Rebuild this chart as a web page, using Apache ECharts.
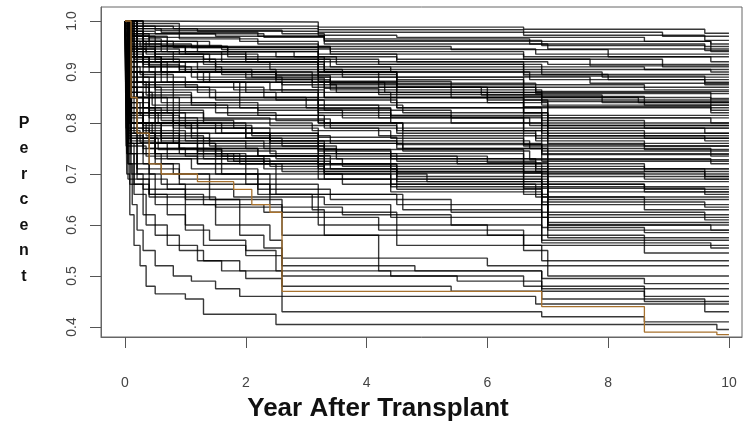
<!DOCTYPE html>
<html>
<head>
<meta charset="utf-8">
<script src="https://cdn.jsdelivr.net/npm/echarts@6/dist/echarts.min.js"></script>
<style>html,body{margin:0;padding:0;background:#fff}#c{width:756px;height:432px}</style>
</head>
<body>
<div id="c"></div>
<script>
// Tick labels
const xTicks = [0, 2, 4, 6, 8, 10];
const yTicks = [0.4, 0.5, 0.6, 0.7, 0.8, 0.9, 1.0];

// Step curves: [year, survival] - survival holds from that year onward
const upperCurves = [
  [[0,1],[0.3,0.998],[3.2,0.988],[6.6,0.984],[9.6,0.976],[10,0.976]],
  [[0,1],[0.1,0.99],[0.8,0.985],[3.2,0.978],[6.6,0.972],[9.6,0.962],[10,0.962]],
  [[0,1],[0.05,0.98],[0.5,0.975],[1.5,0.97],[3.3,0.96],[6.7,0.955],[9.6,0.95],[10,0.95]],
  [[0,1],[0.1,0.975],[0.9,0.965],[2.2,0.955],[3.2,0.945],[6.8,0.935],[10,0.935]],
  [[0,1],[0.05,0.97],[0.4,0.96],[1.4,0.95],[3.4,0.94],[6.6,0.93],[9.7,0.92],[10,0.92]],
  [[0,1],[0.2,0.96],[0.7,0.95],[1.7,0.94],[3.2,0.93],[4.5,0.92],[7,0.915],[10,0.915]],
  [[0,1],[0.1,0.955],[0.6,0.94],[2.5,0.93],[3.5,0.915],[6.6,0.905],[9.7,0.9],[10,0.9]],
  [[0,1],[0.3,0.95],[1.0,0.935],[2.0,0.925],[3.2,0.91],[4.4,0.9],[7.9,0.89],[10,0.89]],
  [[0,1],[0.05,0.945],[0.5,0.93],[1.3,0.915],[3.3,0.9],[6.7,0.885],[9.6,0.875],[10,0.875]],
  [[0,1],[0.2,0.94],[0.8,0.92],[2.4,0.905],[3.6,0.89],[6.6,0.875],[8.6,0.865],[10,0.865]],
  [[0,1],[0.1,0.93],[0.4,0.91],[1.6,0.895],[3.2,0.88],[4.5,0.87],[6.8,0.858],[10,0.858]],
  [[0,1],[0.15,0.925],[0.9,0.905],[2.1,0.89],[3.4,0.875],[6.6,0.86],[9.7,0.848],[10,0.848]],
  [[0,1],[0.05,0.92],[0.6,0.9],[1.2,0.885],[3.1,0.87],[5.9,0.855],[7.9,0.84],[10,0.84]],
  [[0,1],[0.3,0.91],[1.1,0.89],[2.6,0.875],[3.5,0.86],[6.6,0.845],[8.6,0.835],[10,0.835]],
  [[0,1],[0.1,0.9],[0.7,0.88],[1.8,0.865],[3.3,0.85],[6.9,0.835],[10,0.835]],
  [[0,1],[0.02,0.985],[1.2,0.98],[3.2,0.972],[4.5,0.968],[8.6,0.96],[9.7,0.955],[10,0.955]],
  [[0,1],[0.04,0.99],[0.9,0.975],[2.3,0.968],[3.3,0.955],[7.0,0.945],[10,0.945]],
  [[0,1],[0.07,0.96],[0.25,0.95],[1.0,0.94],[2.8,0.93],[3.2,0.92],[6.6,0.91],[8.6,0.905],[10,0.905]],
  [[0,1],[0.12,0.94],[0.5,0.925],[1.5,0.91],[3.2,0.895],[4.5,0.885],[6.6,0.87],[10,0.87]],
  [[0,1],[0.03,0.935],[0.3,0.915],[0.9,0.9],[2.5,0.885],[3.4,0.865],[6.9,0.85],[9.7,0.84],[10,0.84]],
  [[0,1],[0.02,0.99],[0.5,0.982],[2.6,0.975],[3.3,0.965],[6.7,0.96],[9.7,0.94],[10,0.94]],
  [[0,1],[0.06,0.975],[0.4,0.968],[1.9,0.96],[3.2,0.95],[5.4,0.944],[8.0,0.93],[10,0.93]],
  [[0,1],[0.03,0.97],[0.3,0.955],[1.1,0.948],[3.4,0.935],[6.6,0.925],[8.9,0.91],[10,0.91]],
  [[0,1],[0.08,0.965],[0.6,0.952],[1.6,0.944],[3.2,0.925],[4.2,0.915],[6.9,0.895],[10,0.895]],
  [[0,1],[0.04,0.96],[0.2,0.945],[0.9,0.935],[2.2,0.92],[3.3,0.905],[6.6,0.892],[9.6,0.88],[10,0.88]],
  [[0,1],[0.1,0.95],[0.5,0.935],[1.4,0.92],[3.2,0.9],[4.5,0.89],[7.7,0.878],[10,0.878]],
  [[0,1],[0.02,0.94],[0.3,0.92],[1.2,0.905],[2.5,0.893],[3.4,0.878],[6.8,0.862],[10,0.862]],
  [[0,1],[0.05,0.93],[0.4,0.912],[1.0,0.9],[3.2,0.882],[5.4,0.87],[6.6,0.852],[8.6,0.845],[10,0.845]],
  [[0,1],[0.07,0.92],[0.7,0.9],[2.0,0.888],[3.3,0.868],[4.2,0.856],[6.9,0.842],[10,0.842]],
  [[0,1],[0.03,0.91],[0.25,0.895],[0.8,0.88],[2.4,0.865],[3.2,0.85],[6.6,0.832],[9.7,0.825],[10,0.825]],
  [[0,1],[0.01,0.995],[0.9,0.99],[3.2,0.983],[6.6,0.978],[8.9,0.97],[10,0.97]],
  [[0,1],[0.05,0.985],[0.6,0.978],[2.2,0.97],[3.3,0.962],[6.9,0.952],[9.6,0.942],[10,0.942]],
  [[0,1],[0.12,0.96],[0.8,0.948],[3.2,0.935],[4.5,0.925],[7.7,0.912],[10,0.912]],
  [[0,1],[0.09,0.945],[0.35,0.935],[1.3,0.925],[3.4,0.91],[6.6,0.895],[8.0,0.885],[10,0.885]]
];

const middleCurves = [
  [[0,1],[0.05,0.92],[0.3,0.89],[1.0,0.87],[2.3,0.85],[3.2,0.835],[4.6,0.82],[7,0.81],[9.7,0.8],[10,0.8]],
  [[0,1],[0.1,0.9],[0.5,0.87],[1.4,0.85],[3.0,0.83],[4.4,0.815],[6.6,0.8],[8.6,0.79],[10,0.79]],
  [[0,1],[0.05,0.89],[0.4,0.86],[1.1,0.84],[2.2,0.825],[3.6,0.81],[6.7,0.795],[10,0.795]],
  [[0,1],[0.2,0.88],[0.8,0.85],[1.9,0.83],[3.2,0.815],[5.4,0.8],[6.9,0.78],[10,0.78]],
  [[0,1],[0.1,0.87],[0.6,0.84],[1.5,0.82],[2.5,0.805],[3.3,0.79],[6.6,0.775],[9.6,0.765],[10,0.765]],
  [[0,1],[0.05,0.86],[0.3,0.83],[0.9,0.81],[2.4,0.795],[4.5,0.78],[6.8,0.765],[8.6,0.755],[10,0.755]],
  [[0,1],[0.15,0.85],[0.7,0.82],[1.3,0.8],[3.1,0.785],[4.4,0.77],[6.6,0.755],[10,0.755]],
  [[0,1],[0.1,0.84],[0.4,0.81],[1.2,0.79],[2.1,0.775],[3.4,0.76],[6.9,0.74],[9.7,0.735],[10,0.735]],
  [[0,1],[0.05,0.83],[0.5,0.8],[1.6,0.78],[3.2,0.76],[4.6,0.745],[6.7,0.728],[10,0.728]],
  [[0,1],[0.2,0.82],[0.8,0.79],[2.0,0.77],[2.6,0.755],[3.5,0.74],[6.6,0.72],[8.6,0.71],[10,0.71]],
  [[0,1],[0.1,0.81],[0.3,0.785],[1.0,0.765],[2.3,0.75],[3.2,0.735],[5.5,0.72],[6.9,0.7],[10,0.7]],
  [[0,1],[0.05,0.8],[0.6,0.77],[1.4,0.755],[3.3,0.74],[4.5,0.725],[6.8,0.705],[9.6,0.69],[10,0.69]],
  [[0,1],[0.1,0.79],[0.4,0.76],[1.2,0.745],[2.5,0.73],[3.6,0.715],[6.6,0.695],[10,0.695]],
  [[0,1],[0.15,0.78],[0.9,0.75],[2.2,0.735],[3.2,0.72],[4.4,0.705],[6.9,0.68],[8.6,0.67],[10,0.67]],
  [[0,1],[0.05,0.77],[0.5,0.74],[1.7,0.725],[3.4,0.71],[6.6,0.69],[7,0.665],[10,0.665]],
  [[0,1],[0.1,0.76],[0.7,0.73],[2.4,0.715],[3.3,0.7],[5.0,0.685],[6.9,0.655],[10,0.655]],
  [[0,1],[0.05,0.95],[0.2,0.93],[0.6,0.9],[1.3,0.88],[2.6,0.86],[3.2,0.845],[4.5,0.83],[6.6,0.82],[7.0,0.81],[10,0.81]],
  [[0,1],[0.08,0.97],[0.5,0.92],[1.5,0.9],[3.1,0.88],[4.3,0.86],[6.9,0.85],[8.5,0.84],[9.7,0.82],[10,0.82]],
  [[0,1],[0.06,0.88],[0.35,0.855],[1.1,0.835],[3.2,0.82],[4.4,0.8],[6.6,0.785],[8.6,0.77],[10,0.77]],
  [[0,1],[0.09,0.86],[0.45,0.835],[1.7,0.815],[3.3,0.8],[4.6,0.785],[7.0,0.76],[10,0.76]],
  [[0,1],[0.03,0.84],[0.25,0.815],[0.9,0.795],[2.1,0.78],[3.2,0.765],[6.7,0.75],[9.7,0.74],[10,0.74]],
  [[0,1],[0.07,0.82],[0.55,0.8],[1.5,0.78],[2.4,0.765],[4.5,0.75],[6.9,0.725],[10,0.725]],
  [[0,1],[0.11,0.8],[0.35,0.775],[1.3,0.76],[3.2,0.745],[4.4,0.73],[6.6,0.715],[8.6,0.705],[10,0.705]],
  [[0,1],[0.02,0.79],[0.6,0.765],[2.0,0.75],[3.5,0.73],[6.8,0.71],[9.6,0.695],[10,0.695]],
  [[0,1],[0.06,0.775],[0.3,0.75],[1.0,0.735],[2.3,0.72],[3.3,0.705],[7.0,0.675],[10,0.675]],
  [[0,1],[0.09,0.765],[0.5,0.74],[1.8,0.725],[3.2,0.71],[4.5,0.695],[6.6,0.68],[8.6,0.665],[10,0.665]],
  [[0,1],[0.04,0.98],[0.3,0.96],[1.2,0.94],[3.2,0.9],[4.2,0.87],[5.4,0.85],[6.6,0.83],[10,0.83]],
  [[0,1],[0.05,0.97],[0.4,0.95],[1.7,0.93],[3.3,0.9],[4.5,0.86],[6.0,0.84],[7.0,0.79],[10,0.79]],
  [[0,1],[0.1,0.97],[0.7,0.94],[2.0,0.92],[3.2,0.9],[4.5,0.87],[6.0,0.845],[7.0,0.6],[9.7,0.59],[10,0.59]],
  [[0,1],[0.04,0.9],[0.3,0.875],[1.2,0.86],[2.5,0.845],[3.2,0.828],[4.4,0.812],[6.9,0.795],[10,0.795]],
  [[0,1],[0.08,0.89],[0.5,0.865],[1.5,0.845],[3.3,0.825],[5.4,0.81],[6.6,0.79],[9.6,0.78],[10,0.78]],
  [[0,1],[0.02,0.87],[0.2,0.85],[0.9,0.83],[2.2,0.815],[3.2,0.8],[4.5,0.785],[6.8,0.77],[10,0.77]],
  [[0,1],[0.06,0.85],[0.4,0.825],[1.3,0.808],[3.4,0.79],[4.2,0.775],[6.6,0.758],[8.6,0.748],[10,0.748]],
  [[0,1],[0.1,0.83],[0.6,0.805],[1.8,0.79],[3.2,0.772],[4.5,0.758],[6.9,0.738],[10,0.738]],
  [[0,1],[0.03,0.815],[0.3,0.795],[1.1,0.78],[2.4,0.765],[3.3,0.748],[6.6,0.73],[9.7,0.72],[10,0.72]],
  [[0,1],[0.07,0.8],[0.45,0.78],[1.4,0.765],[3.2,0.748],[4.4,0.735],[6.0,0.722],[7.0,0.71],[10,0.71]],
  [[0,1],[0.05,0.785],[0.25,0.762],[0.9,0.75],[2.2,0.736],[3.4,0.72],[6.6,0.702],[8.6,0.69],[10,0.69]],
  [[0,1],[0.09,0.77],[0.55,0.748],[1.6,0.735],[3.2,0.718],[4.5,0.702],[6.9,0.685],[10,0.685]],
  [[0,1],[0.02,0.755],[0.35,0.735],[1.2,0.72],[2.6,0.705],[3.3,0.69],[6.6,0.672],[9.6,0.66],[10,0.66]],
  [[0,1],[0.04,0.95],[0.3,0.92],[1.0,0.9],[2.5,0.88],[3.2,0.86],[4.4,0.84],[6.6,0.815],[10,0.815]],
  [[0,1],[0.06,0.93],[0.4,0.9],[1.4,0.88],[3.3,0.85],[4.5,0.83],[6.9,0.805],[8.6,0.8],[10,0.8]],
  [[0,1],[0.03,0.91],[0.5,0.88],[2.0,0.86],[3.2,0.835],[4.2,0.81],[7.0,0.775],[10,0.775]],
  [[0,1],[0.05,0.96],[0.35,0.94],[1.6,0.92],[3.2,0.89],[4.5,0.85],[6.6,0.82],[6.9,0.745],[10,0.745]]
];

const lowerCurves = [
  [[0,1],[0.05,0.85],[0.2,0.8],[0.6,0.76],[1.3,0.73],[2.3,0.71],[3.2,0.69],[4.5,0.67],[6.9,0.64],[10,0.64]],
  [[0,1],[0.1,0.82],[0.3,0.77],[0.9,0.74],[1.9,0.72],[3.3,0.7],[4.4,0.68],[6.8,0.655],[8.6,0.63],[10,0.63]],
  [[0,1],[0.05,0.8],[0.4,0.75],[1.2,0.72],[2.5,0.7],[3.6,0.68],[6.6,0.66],[7.0,0.62],[10,0.62]],
  [[0,1],[0.1,0.78],[0.5,0.73],[1.1,0.71],[2.2,0.69],[4.4,0.665],[6.9,0.625],[9.6,0.61],[10,0.61]],
  [[0,1],[0.05,0.76],[0.3,0.72],[0.8,0.7],[2.0,0.68],[3.2,0.66],[4.5,0.64],[7.0,0.6],[10,0.6]],
  [[0,1],[0.1,0.74],[0.4,0.7],[1.4,0.68],[2.4,0.66],[4.6,0.63],[6.9,0.595],[8.6,0.585],[10,0.585]],
  [[0,1],[0.05,0.72],[0.2,0.69],[0.7,0.67],[1.8,0.655],[3.3,0.64],[4.4,0.615],[7.0,0.575],[10,0.575]],
  [[0,1],[0.1,0.7],[0.3,0.67],[1.0,0.65],[2.6,0.635],[3.6,0.62],[5.4,0.6],[6.9,0.565],[9.7,0.555],[10,0.555]],
  [[0,1],[0.05,0.69],[0.4,0.66],[1.3,0.64],[2.3,0.625],[4.5,0.6],[6.0,0.58],[8.6,0.545],[10,0.545]],
  [[0,1],[0.03,0.9],[0.2,0.85],[0.8,0.8],[2.0,0.77],[3.2,0.74],[4.4,0.71],[7.0,0.65],[10,0.65]],
  [[0,1],[0.05,0.88],[0.4,0.82],[1.0,0.79],[2.4,0.76],[3.3,0.72],[4.5,0.69],[6.9,0.615],[10,0.615]],
  [[0,1],[0.08,0.93],[0.6,0.88],[1.9,0.85],[3.2,0.8],[4.6,0.75],[7.0,0.59],[10,0.59]],
  [[0,1],[0.04,0.86],[0.3,0.8],[1.1,0.77],[2.4,0.74],[3.2,0.71],[4.5,0.685],[6.9,0.645],[9.6,0.635],[10,0.635]],
  [[0,1],[0.06,0.8],[0.5,0.76],[1.5,0.735],[3.3,0.705],[4.4,0.675],[7.0,0.605],[10,0.605]],
  [[0,1],[0.03,0.74],[0.2,0.71],[0.9,0.69],[2.2,0.67],[3.4,0.65],[5.4,0.625],[6.9,0.57],[10,0.57]],
  [[0,1],[0.08,0.68],[0.4,0.655],[1.5,0.635],[2.6,0.615],[4.2,0.59],[6.6,0.56],[10,0.56]]
];

const bottomCurves = [
  [[0,1],[0.03,0.7],[0.08,0.62],[0.15,0.56],[0.25,0.52],[0.35,0.48],[0.5,0.465],[1.0,0.455],[1.3,0.425],[2.5,0.405],[9.8,0.395],[10,0.395]],
  [[0,1],[0.05,0.72],[0.12,0.64],[0.2,0.59],[0.3,0.55],[0.5,0.52],[0.8,0.5],[1.1,0.49],[1.5,0.475],[1.9,0.46],[2.6,0.43],[6.9,0.42],[8.6,0.41],[10,0.41]],
  [[0,1],[0.05,0.76],[0.15,0.68],[0.3,0.62],[0.5,0.58],[0.9,0.55],[1.3,0.53],[1.6,0.51],[2.0,0.495],[2.6,0.46],[6.8,0.445],[10,0.445]],
  [[0,1],[0.08,0.8],[0.2,0.72],[0.4,0.66],[0.7,0.62],[1.0,0.59],[1.4,0.57],[2.0,0.55],[2.5,0.51],[4.4,0.5],[6.6,0.48],[8.6,0.46],[10,0.46]],
  [[0,1],[0.1,0.82],[0.3,0.74],[0.6,0.68],[1.0,0.64],[1.5,0.6],[1.9,0.58],[2.3,0.555],[2.6,0.5],[5.5,0.49],[6.9,0.475],[10,0.475]],
  [[0,1],[0.05,0.85],[0.2,0.78],[0.5,0.72],[0.9,0.68],[1.4,0.65],[1.9,0.6],[2.4,0.57],[2.6,0.535],[6.0,0.52],[7.0,0.5],[10,0.5]],
  [[0,1],[0.1,0.87],[0.4,0.8],[0.9,0.75],[1.6,0.7],[2.2,0.66],[3.1,0.63],[3.3,0.58],[6.6,0.56],[6.9,0.53],[10,0.53]],
  [[0,1],[0.05,0.9],[0.3,0.82],[0.8,0.76],[1.5,0.7],[2.4,0.64],[2.6,0.58],[4.2,0.52],[4.8,0.51],[6.9,0.495],[8.6,0.485],[10,0.485]],
  [[0,1],[0.06,0.78],[0.2,0.7],[0.5,0.64],[1.0,0.6],[1.3,0.56],[2.0,0.54],[2.6,0.52],[4.2,0.51],[6.9,0.47],[8.6,0.45],[10,0.45]],
  [[0,1],[0.04,0.74],[0.15,0.66],[0.35,0.6],[0.7,0.56],[1.2,0.53],[1.9,0.51],[2.6,0.48],[5.4,0.47],[6.9,0.455],[9.6,0.43],[10,0.43]],
  [[0,1],[0.1,0.88],[0.5,0.8],[1.2,0.74],[2.0,0.7],[2.5,0.66],[3.2,0.6],[4.5,0.56],[6.6,0.55],[7.0,0.52],[10,0.52]]
];

const highlightCurve = [[0,1],[0.1,0.85],[0.2,0.78],[0.4,0.72],[0.6,0.7],[1.2,0.685],[1.8,0.67],[2.1,0.64],[2.4,0.625],[2.6,0.47],[6.9,0.44],[8.6,0.39],[9.8,0.385],[10,0.385]];

const chart = echarts.init(document.getElementById('c'), null, {renderer: 'canvas'});
const lineColor = 'rgba(0,0,0,0.78)';
const series = [];
[upperCurves, middleCurves, lowerCurves, bottomCurves].forEach(group => {
  group.forEach(curve => {
    series.push({
      type: 'line', step: 'end', data: curve, showSymbol: false, silent: true,
      lineStyle: {color: lineColor, width: 1.4}, animation: false, z: 2
    });
  });
});
series.push({
  type: 'line', step: 'end', data: highlightCurve, showSymbol: false, silent: true,
  lineStyle: {color: '#a8722e', width: 1.3}, animation: false, z: 3
});

chart.setOption({
  animation: false,
  grid: {left: 101, right: 14, top: 7, bottom: 95, show: true, borderColor: '#666', borderWidth: 1, backgroundColor: '#fff'},
  xAxis: {
    type: 'value', min: -0.397, max: 10.216,
    axisLine: {show: true, onZero: false, lineStyle: {color: '#666', width: 1}},
    splitLine: {show: false},
    axisTick: {show: true, customValues: xTicks, length: 11, inside: false, lineStyle: {color: '#555', width: 1}},
    axisLabel: {customValues: xTicks, margin: 39, fontSize: 14, color: '#444', fontFamily: 'Liberation Sans, Arial, sans-serif'}
  },
  yAxis: {
    type: 'value', min: 0.3804, max: 1.0275,
    axisLine: {show: true, onZero: false, lineStyle: {color: '#666', width: 1}},
    splitLine: {show: false},
    axisTick: {show: true, customValues: yTicks, length: 11, lineStyle: {color: '#555', width: 1}},
    axisLabel: {customValues: yTicks, margin: 22, rotate: 90, fontSize: 14, color: '#444',
      fontFamily: 'Liberation Sans, Arial, sans-serif', formatter: v => v.toFixed(1)}
  },
  graphic: [
    {type: 'text', left: 'center', x: 0, top: 396, style: {text: 'Year After Transplant', font: 'bold 26px "Liberation Sans", Arial, sans-serif', fill: '#111'}},
    {type: 'text', x: 24, y: 200, style: {text: 'P\ne\nr\nc\ne\nn\nt', font: 'bold 16px "Liberation Sans", Arial, sans-serif', fill: '#111', align: 'center', verticalAlign: 'middle', lineHeight: 25.5}}
  ],
  series: series
});
</script>
</body>
</html>
